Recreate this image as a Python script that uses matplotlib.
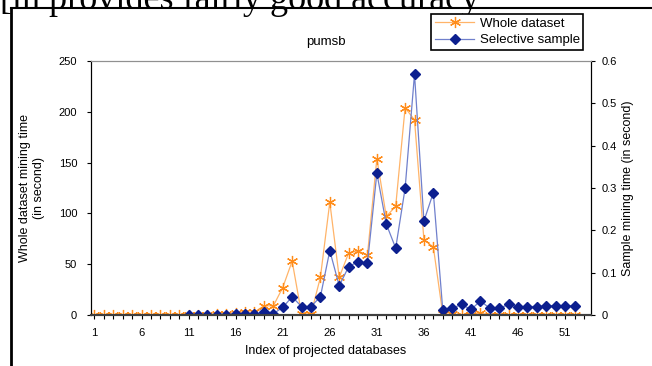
import numpy as np
import matplotlib
matplotlib.use('Agg')
import matplotlib.pyplot as plt
from matplotlib.ticker import MultipleLocator, FixedLocator

plt.rcParams['font.family'] = ['Liberation Sans', 'DejaVu Sans']

# index of projected databases
index = list(range(1, 53))

# whole dataset mining time (left axis, seconds)
whole = [0, 0, 0, 0, 0, 0, 0, 0, 0, 0,
         0, 0, 0, 1, 1, 2, 3, 3, 9, 9,
         27, 53, 1, 1, 37, 111, 37, 61, 63, 59,
         154, 97, 107, 204, 192, 74, 67, 1, 1, 0,
         0, 2, 0, 0, 0, 0, 0, 0, 0, 0,
         0, 0]

# selective sample mining time (right axis, seconds), starts at index 11
sample = [None] * 10 + [
    0.0, 0.0, 0.0, 0.0, 0.0, 0.002, 0.002, 0.002, 0.006, 0.003,
    0.018, 0.043, 0.02, 0.02, 0.043, 0.152, 0.069, 0.114, 0.126, 0.122,
    0.335, 0.215, 0.158, 0.299, 0.569, 0.222, 0.289, 0.012, 0.016, 0.025,
    0.013, 0.033, 0.016, 0.016, 0.025, 0.02, 0.02, 0.02, 0.022, 0.022,
    0.022, 0.022]

x_ticks = [1, 6, 11, 16, 21, 26, 31, 36, 41, 46, 51]
right_ticks = [0, 0.1, 0.2, 0.3, 0.4, 0.5, 0.6]
right_labels = ['0', '0.1', '0.2', '0.3', '0.4', '0.5', '0.6']
sample_arr = np.array([np.nan if v is None else v for v in sample])

fig = plt.figure(figsize=(6.52, 3.66), dpi=100)

# document text peeking in above the chart
fig.text(0.0, 1 - 9 / 366, '[in provides fairly good accuracy', family='Liberation Serif',
         fontsize=26, va='baseline', ha='left', color='black')
# frame of the embedded chart
fig.add_artist(plt.Line2D([11 / 652, 11 / 652], [0, 1 - 8 / 366], color='black', lw=2))
fig.add_artist(plt.Line2D([11 / 652, 1], [1 - 8 / 366, 1 - 8 / 366], color='black', lw=1.5))

ax = fig.add_axes([91 / 652, 51 / 366, 500 / 652, 254 / 366])
ax2 = ax.twinx()

l1, = ax.plot(index, whole, color='#ffb469', lw=0.9, marker=(6, 2, 0), markersize=8,
              markeredgecolor='#ff8c1a', markeredgewidth=0.9, label='Whole dataset')
l2, = ax2.plot(index, sample_arr, color='#7080cc', lw=0.9, marker='D', markersize=5.5,
               markerfacecolor='#0c1f8f', markeredgecolor='#0c1f8f', label='Selective sample')

ax.set_xlim(0.63, 53.75)
ax.set_ylim(0, 250)
ax2.set_ylim(0, 0.6)
ax.xaxis.set_major_locator(FixedLocator(x_ticks))
ax.xaxis.set_minor_locator(MultipleLocator(1))
ax.yaxis.set_major_locator(MultipleLocator(50))
ax2.set_yticks(right_ticks)
ax2.set_yticklabels(right_labels)

ax.tick_params(axis='x', which='both', direction='out', length=3, width=0.8, labelsize=8, pad=6)
ax.tick_params(axis='y', direction='out', length=3, width=0.8, labelsize=8, pad=7)
ax2.tick_params(axis='y', direction='out', length=3, width=0.8, labelsize=8, pad=5)

for a in (ax, ax2):
    a.spines['top'].set_color('#909090')
    a.spines['left'].set_color('black')
    a.spines['right'].set_color('black')
    a.spines['bottom'].set_color('#404040')
    a.spines['bottom'].set_linewidth(1.5)

ax.set_xlabel('Index of projected databases', fontsize=9)
ax.xaxis.set_label_coords(0.47, -0.12)
ax.set_ylabel('Whole dataset mining time\n(in second)', fontsize=9)
ax.yaxis.set_label_coords(-0.092, 0.5)
ax2.set_ylabel('Sample mining time (in second)', fontsize=9)
ax2.yaxis.set_label_coords(1.062, 0.5)

fig.text(326 / 652, 1 - 42 / 366, 'pumsb', fontsize=9.5, ha='center', va='center')

leg = fig.legend(handles=[l1, l2], loc='upper right', bbox_to_anchor=(583 / 652, 1 - 14 / 366),
                 fontsize=9.5, frameon=True, fancybox=False, edgecolor='black',
                 framealpha=1, borderaxespad=0, handlelength=3.0, handletextpad=0.4,
                 labelspacing=0.35, borderpad=0.25)
leg.get_frame().set_linewidth(1.2)

fig.savefig('out.png', dpi=100)
